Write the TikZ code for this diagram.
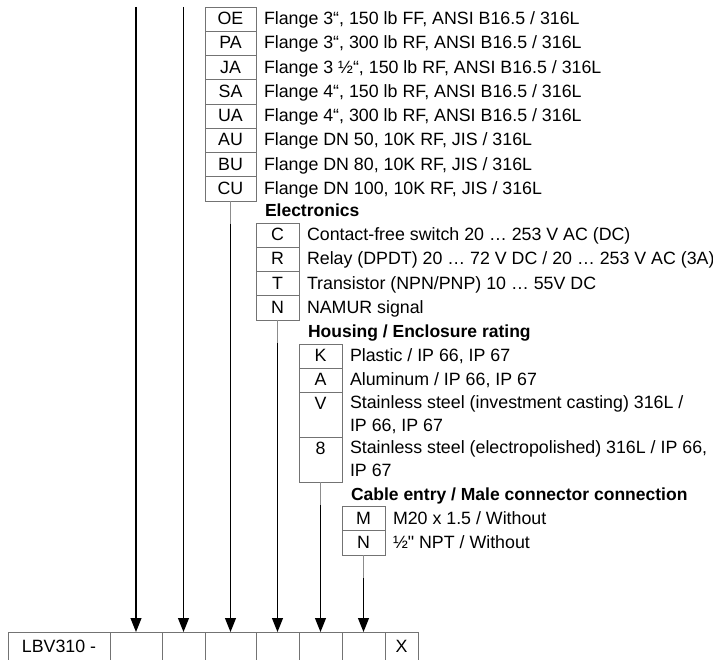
\documentclass[tikz,border=0pt]{standalone}
\usepackage{fontspec}
\setmainfont{Liberation Sans}
\newfontfamily\straightfont{Liberation Sans}
\usetikzlibrary{arrows.meta, positioning}

\begin{document}
\begin{tikzpicture}[
  x=1pt, y=1pt,
  font=\fontsize{17.8}{23}\selectfont,
  arrow/.style={-{Triangle[length=14pt, width=11pt]}, line width=1.1pt},
  link/.style={draw=black!45, line width=0.6pt},
  code/.style={draw=black!55, line width=0.8pt, outer sep=0pt, inner sep=0pt,
    minimum width=43pt, minimum height=24.25pt, text height=12.5pt, text depth=1.5pt},
  codetall/.style={code, minimum height=45pt, text depth=23.5pt},
  desc/.style={inner sep=0pt, outer sep=0pt, align=left, text height=12.5pt, text depth=1.5pt},
  desctall/.style={desc, text height=35.5pt},
  head/.style={inner sep=0pt, outer sep=0pt, text depth=0pt,
    font=\fontsize{17.5}{23}\selectfont\bfseries},
  cell/.style={draw=black!55, line width=0.8pt, outer sep=0pt, inner sep=0pt,
    minimum height=28pt},
  node distance=0pt
]
\useasboundingbox (0,0) rectangle (713,-660);

% =========================
% Process connection (flanges)
% =========================
\node[code, minimum width=51pt, anchor=north west] (fOE) at (205,-7) {OE};
\node[code, minimum width=51pt, below=of fOE] (fPA) {PA};
\node[code, minimum width=51pt, below=of fPA] (fJA) {JA};
\node[code, minimum width=51pt, below=of fJA] (fSA) {SA};
\node[code, minimum width=51pt, below=of fSA] (fUA) {UA};
\node[code, minimum width=51pt, below=of fUA] (fAU) {AU};
\node[code, minimum width=51pt, below=of fAU] (fBU) {BU};
\node[code, minimum width=51pt, below=of fBU] (fCU) {CU};

\node[desc, right=8pt of fOE] (fOEtxt) {Flange 3“, 150 lb FF, ANSI B16.5 / 316L};
\node[desc, right=8pt of fPA] (fPAtxt) {Flange 3“, 300 lb RF, ANSI B16.5 / 316L};
\node[desc, right=8pt of fJA] (fJAtxt) {Flange 3 ½“, 150 lb RF, ANSI B16.5 / 316L};
\node[desc, right=8pt of fSA] (fSAtxt) {Flange 4“, 150 lb RF, ANSI B16.5 / 316L};
\node[desc, right=8pt of fUA] (fUAtxt) {Flange 4“, 300 lb RF, ANSI B16.5 / 316L};
\node[desc, right=8pt of fAU] (fAUtxt) {Flange DN 50, 10K RF, JIS / 316L};
\node[desc, right=8pt of fBU] (fBUtxt) {Flange DN 80, 10K RF, JIS / 316L};
\node[desc, right=8pt of fCU] (fCUtxt) {Flange DN 100, 10K RF, JIS / 316L};

% =========================
% Electronics
% =========================
\node[code, below right=22pt and 0pt of fCU.south east] (eC) {C};
\node[code, below=of eC] (eR) {R};
\node[code, below=of eR] (eT) {T};
\node[code, below=of eT] (eN) {N};
\node[head, above right=6pt and 9pt of eC.north west] (electronics) {Electronics};

\node[desc, right=8pt of eC] (eCtxt) {Contact-free switch 20 … 253 V AC (DC)};
\node[desc, right=8pt of eR] (eRtxt) {Relay (DPDT) 20 … 72 V DC / 20 … 253 V AC (3A)};
\node[desc, right=8pt of eT] (eTtxt) {Transistor (NPN/PNP) 10 … 55V DC};
\node[desc, right=8pt of eN] (eNtxt) {NAMUR signal};

% =========================
% Housing / enclosure rating
% =========================
\node[code, below right=24pt and 0pt of eN.south east] (hK) {K};
\node[code, below=of hK] (hA) {A};
\node[codetall, below=of hA] (hV) {V};
\node[codetall, below=of hV] (h8) {8};
\node[head, above right=6pt and 9pt of hK.north west] (housing) {Housing / Enclosure rating};

\node[desc, right=8pt of hK] (hKtxt) {Plastic / IP 66, IP 67};
\node[desc, right=8pt of hA] (hAtxt) {Aluminum / IP 66, IP 67};
\node[desctall, right=8pt of hV] (hVtxt) {Stainless steel (investment casting) 316L /\\IP 66, IP 67};
\node[desctall, right=8pt of h8] (h8txt) {Stainless steel (electropolished) 316L / IP 66,\\IP 67};

% =========================
% Cable entry
% =========================
\node[code, below right=24pt and 0pt of h8.south east] (cM) {M};
\node[code, below=of cM] (cN) {N};
\node[head, above right=6pt and 9pt of cM.north west] (cable) {Cable entry / Male connector connection};

\node[desc, right=8pt of cM] (cMtxt) {M20 x 1.5 / Without};
\node[desc, right=8pt of cN] (cNtxt) {½{\straightfont"} NPT / Without};

% =========================
% Type code row
% =========================
\node[cell, minimum width=102pt, anchor=north west] (lbv) at (8,-632) {LBV310 -};
\node[cell, minimum width=52pt, right=of lbv] (pos1) {};
\node[cell, minimum width=43pt, right=of pos1] (pos2) {};
\node[cell, minimum width=51pt, right=of pos2] (pos3) {};
\node[cell, minimum width=43pt, right=of pos3] (pos4) {};
\node[cell, minimum width=43pt, right=of pos4] (pos5) {};
\node[cell, minimum width=43pt, right=of pos5] (pos6) {};
\node[cell, minimum width=33pt, right=of pos6] (pos7) {X};

% arrows into the type code
\coordinate (top1) at (pos1 |- fOE.north);
\coordinate (top2) at (pos2 |- fOE.north);
\draw[arrow] (top1) -- (pos1);
\draw[arrow] (top2) -- (pos2);

\draw[link] (fCU.south) -- ++(0,-23) coordinate (j3);
\draw[link] (eN.south) -- ++(0,-23) coordinate (j4);
\draw[link] (h8.south) -- ++(0,-23) coordinate (j5);
\draw[link] (cN.south) -- ++(0,-23) coordinate (j6);
\draw[arrow] (j3) -- (pos3);
\draw[arrow] (j4) -- (pos4);
\draw[arrow] (j5) -- (pos5);
\draw[arrow] (j6) -- (pos6);

\end{tikzpicture}
\end{document}
